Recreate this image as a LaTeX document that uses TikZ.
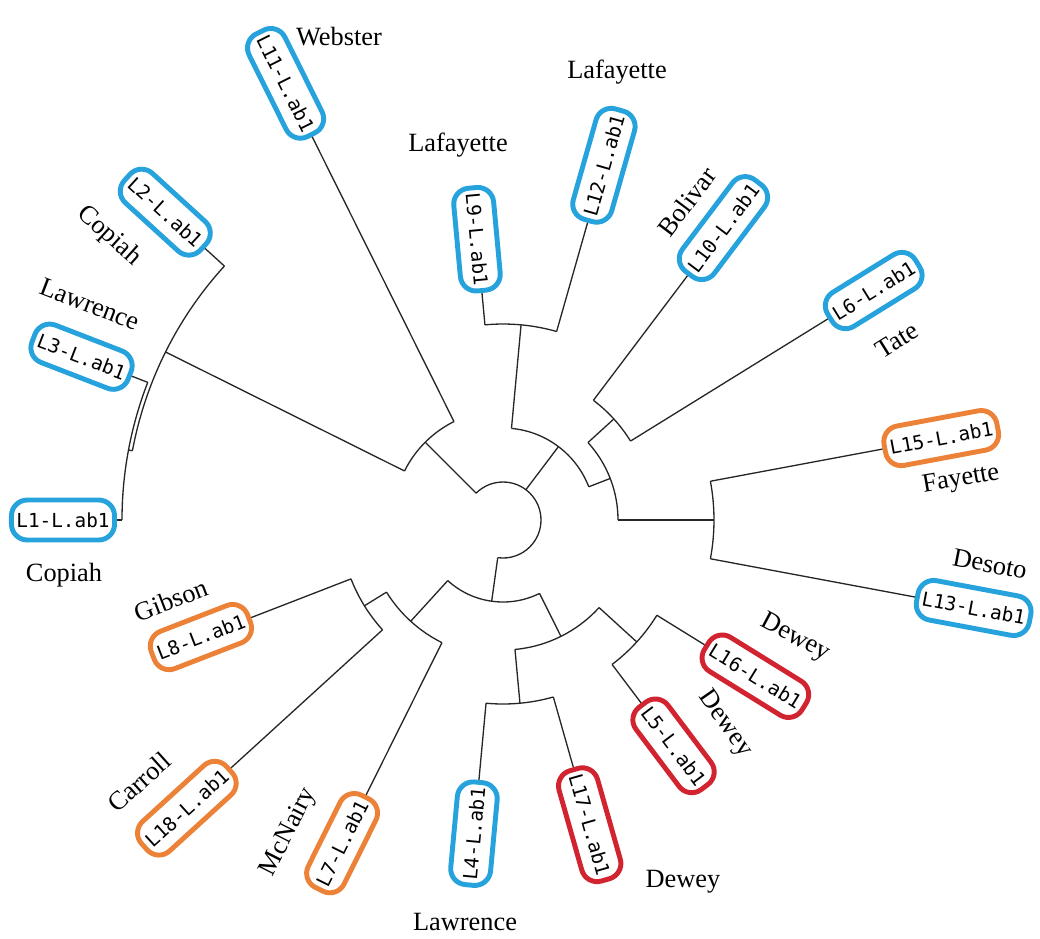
\documentclass[tikz,border=0pt]{standalone}
\usepackage{fontspec}
\usepackage{tikz}
\setmainfont{Liberation Serif}
\newfontfamily\labfont{DejaVu Sans Mono}
\definecolor{cblue}{RGB}{38,162,220}
\definecolor{corange}{RGB}{236,130,56}
\definecolor{cred}{RGB}{210,36,48}

\begin{document}
\begin{tikzpicture}[x=0.02cm,y=0.02cm,br/.style={line width=0.75pt,black!85},
lb/.style={draw=#1,line width=2.8pt,rounded corners=9pt,minimum
height=0.8cm,inner xsep=0.1cm,inner ysep=0pt,text=black,font=\labfont\fontsize{11}{13}\selectfont},
cty/.style={font=\fontsize{15}{18}\selectfont,inner sep=0pt}]
\useasboundingbox (-503,-418) rectangle (537,520);

% inner nodes: name/angle/parent radius/radius
\foreach \n/\a/\p/\r in {nl/135/38/110, na/153.53/110/377, nb/169.41/377/381,
    nu/52.94/38/92, n9/84.71/92/196, nr/21.18/92/115, n106/42.35/115/150,
    n1513/0/115/211, nd/-97.94/38/82, ndl/-132.35/82/137, n188/-148.24/137/163,
    ndr/-63.53/82/130, n174/-84.71/130/184, n516/-42.35/130/181}
  {\coordinate (\n-in) at (\a:\p); \coordinate (\n) at (\a:\r);
   \draw[br] (\n-in) -- (\n);}

% arcs
\foreach \s/\e/\r in {135/-97.94/38, 153.53/116.47/110, 137.65/169.41/377,
    158.82/180/381, 84.71/21.18/92, 95.29/74.12/196, 42.35/0/115,
    52.94/31.76/150, 10.59/-10.59/211, -132.35/-63.53/82,
    -148.24/-116.47/137, -137.65/-158.82/163, -84.71/-42.35/130,
    -74.12/-95.29/184, -31.76/-52.94/181}
  \draw[br] (\s:\r) arc[start angle=\s, end angle=\e, radius=\r];

% leaves, left half
\node[lb=cblue,rotate=0,anchor=east] (l1) at (180:386) {L1-L.ab1};
\node[lb=cblue,rotate=-21.18,anchor=east] (l3) at (158.82:398) {L3-L.ab1};
\node[lb=cblue,rotate=-42.35,anchor=east] (l2) at (137.65:403) {L2-L.ab1};
\node[lb=cblue,rotate=-63.53,anchor=east] (l11) at (116.47:428) {L11-L.ab1};
\node[lb=cblue,rotate=-84.71,anchor=east] (l9) at (95.29:228) {L9-L.ab1};
\node[lb=cblue,rotate=84.71,anchor=east] (l4) at (-95.29:261) {L4-L.ab1};
\node[lb=corange,rotate=63.53,anchor=east] (l7) at (-116.47:307) {L7-L.ab1};
\node[lb=corange,rotate=42.35,anchor=east] (l18) at (-137.65:368) {L18-L.ab1};
\node[lb=corange,rotate=21.18,anchor=east] (l8) at (-158.82:270) {L8-L.ab1};
% leaves, right half
\node[lb=cblue,rotate=74.12,anchor=west] (l12) at (74.12:309) {L12-L.ab1};
\node[lb=cblue,rotate=52.94,anchor=west] (l10) at (52.94:306) {L10-L.ab1};
\node[lb=cblue,rotate=31.76,anchor=west] (l6) at (31.76:382) {L6-L.ab1};
\node[lb=corange,rotate=10.59,anchor=west] (l15) at (10.59:386) {L15-L.ab1};
\node[lb=cblue,rotate=-10.59,anchor=west] (l13) at (-10.59:419) {L13-L.ab1};
\node[lb=cred,rotate=-31.76,anchor=west] (l16) at (-31.76:237) {L16-L.ab1};
\node[lb=cred,rotate=-52.94,anchor=west] (l5) at (-52.94:229) {L5-L.ab1};
\node[lb=cred,rotate=-74.12,anchor=west] (l17) at (-74.12:257) {L17-L.ab1};

% leaf branches: leaf/angle/parent radius
\foreach \n/\a/\p in {l1/180/381, l3/158.82/381, l2/137.65/377, l11/116.47/110,
    l9/95.29/196, l12/74.12/196, l10/52.94/150, l6/31.76/150, l15/10.59/211,
    l13/-10.59/211, l16/-31.76/181, l5/-52.94/181, l17/-74.12/184,
    l4/-95.29/184, l7/-116.47/137, l18/-137.65/163, l8/-158.82/163}
  {\coordinate (\n-in) at (\a:\p); \draw[br] (\n-in) -- (\n);}

% county names
\node[cty] (c11) at (-164,483) {Webster};
\node[cty,rotate=-42] (c2) at (-394,284) {Copiah};
\node[cty,rotate=-21] (c3) at (-413,216) {Lawrence};
\node[cty] (c1) at (-439,-55) {Copiah};
\node[cty,rotate=21] (c8) at (-332,-80) {Gibson};
\node[cty,rotate=42] (c18) at (-364,-262) {Carroll};
\node[cty,rotate=63] (c7) at (-214,-312) {McNairy};
\node[cty] (c4) at (-38,-402) {Lawrence};
\node[cty] (c17) at (180,-362) {Dewey};
\node[cty,rotate=-55] (c5) at (222,-204) {Dewey};
\node[cty,rotate=-28] (c16) at (292,-118) {Dewey};
\node[cty,rotate=-11] (c13) at (487,-44) {Desoto};
\node[cty,rotate=10] (c15) at (458,40) {Fayette};
\node[cty,rotate=32] (c6) at (394,180) {Tate};
\node[cty,rotate=53] (c10) at (184,318) {Bolivar};
\node[cty] (c12) at (114,448) {Lafayette};
\node[cty] (c9) at (-45,375) {Lafayette};
\end{tikzpicture}
\end{document}
